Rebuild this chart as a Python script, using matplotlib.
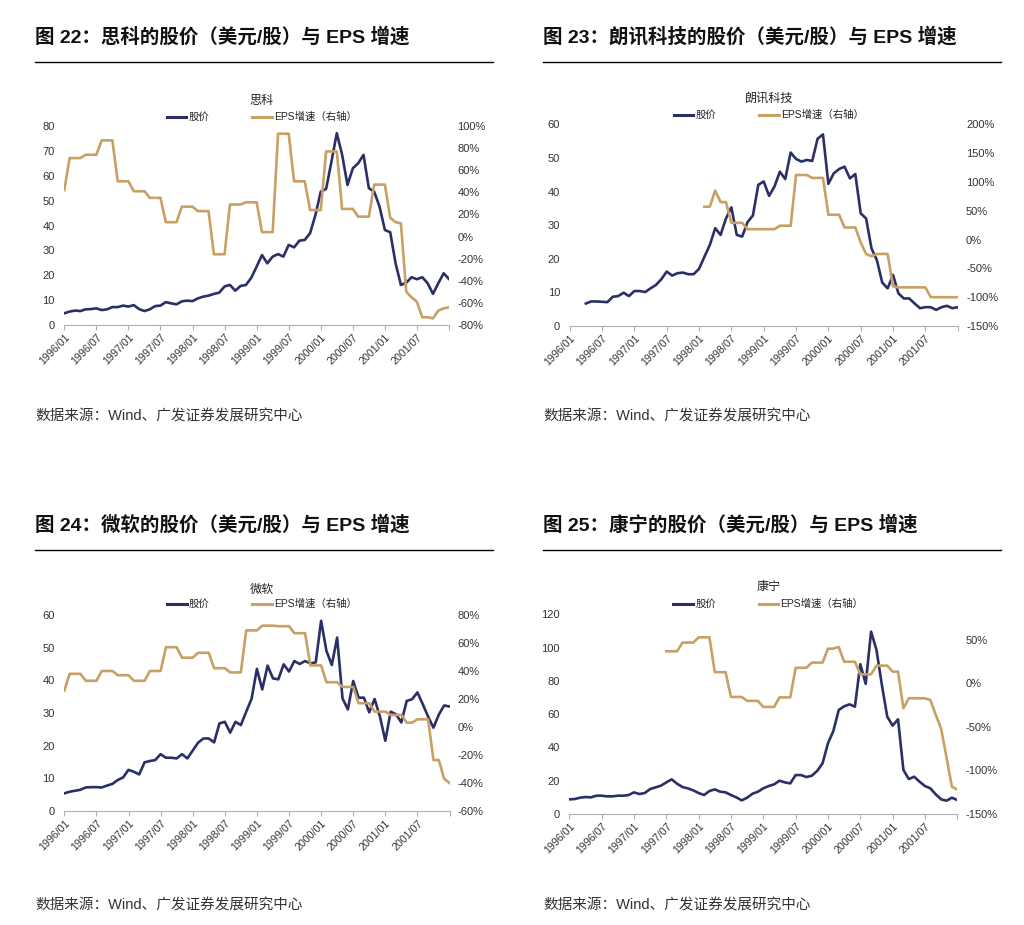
import numpy as np
import pandas as pd
import matplotlib
matplotlib.use("Agg")
import matplotlib.pyplot as plt
from matplotlib.lines import Line2D

plt.rcParams['font.family'] = ['Liberation Sans', 'Noto Sans CJK SC']
plt.rcParams['axes.unicode_minus'] = False

NAVY = '#2b2f68'
TAN = '#c9a064'
W, H = 1024, 925

nan = np.nan
months = pd.date_range('1996-01-01', periods=73, freq='MS').strftime('%Y/%m').tolist()
tick_pos = list(range(0, 73, 6))
tick_labels = [months[i] if i < 72 else '' for i in tick_pos]

cisco_price = [4.7, 5.4, 5.8, 5.6, 6.3, 6.4, 6.7, 6.0, 6.3, 7.2,
               7.2, 7.8, 7.4, 8.0, 6.4, 5.6, 6.3, 7.6, 7.8, 9.2,
               8.7, 8.3, 9.5, 9.8, 9.6, 10.7, 11.4, 11.8, 12.5, 13.0,
               15.5, 16.1, 13.8, 15.7, 16.1, 19.0, 23.5, 28.1, 24.8, 27.5,
               28.5, 27.5, 32.2, 31.2, 33.9, 34.2, 36.9, 44.2, 53.6, 54.7,
               65.7, 77.1, 68.4, 56.3, 63.0, 65.0, 68.4, 55.0, 53.6, 47.6,
               38.2, 37.3, 24.8, 16.1, 17.0, 19.2, 18.4, 19.2, 16.8, 12.5,
               16.8, 20.8, 18.5]
cisco_eps = [42, 71, 71, 71, 74, 74, 74, 87, 87, 87,
             50, 50, 50, 41, 41, 41, 35, 35, 35, 13,
             13, 13, 27, 27, 27, 23, 23, 23, -16, -16,
             -16, 29, 29, 29, 31, 31, 31, 4, 4, 4,
             93, 93, 93, 50, 50, 50, 24, 24, 24, 77,
             77, 77, 25, 25, 25, 18, 18, 18, 47, 47,
             47, 17, 13, 12, -50, -55, -59, -73, -73, -74,
             -67, -65, -64]

lucent_price = [nan, nan, nan, 6.7, 7.3, 7.3, 7.2, 7.1, 8.7, 8.9,
                9.9, 8.9, 10.4, 10.4, 10.1, 11.2, 12.2, 13.9, 16.2, 15.0,
                15.7, 15.9, 15.4, 15.4, 17.0, 20.6, 24.1, 29.1, 27.1, 32.0,
                35.3, 27.1, 26.6, 30.9, 32.9, 42.0, 43.0, 38.7, 41.5, 45.9,
                43.7, 51.6, 49.7, 48.9, 49.4, 49.1, 55.7, 57.0, 42.3, 45.4,
                46.7, 47.4, 43.9, 45.2, 33.5, 32.0, 23.1, 19.6, 12.9, 11.2,
                15.2, 9.7, 8.2, 8.2, 6.7, 5.3, 5.6, 5.6, 4.8, 5.6,
                6.0, 5.3, 5.6]
lucent_eps = [nan] * 25 + [57, 57, 85, 65, 65, 29, 29, 29,
                           18, 18, 18, 18, 18, 18, 24, 24, 24,
                           112, 112, 112, 107, 107, 107, 43, 43, 43,
                           21, 21, 21, -5, -25, -29, -25, -25, -25,
                           -81, -83, -83, -83, -83, -83, -83,
                           -100, -100, -100, -100, -100, -100]

msft_price = [5.4, 5.9, 6.2, 6.5, 7.2, 7.3, 7.3, 7.2, 7.8, 8.3,
              9.5, 10.3, 12.6, 12.0, 11.2, 14.9, 15.3, 15.6, 17.4, 16.3,
              16.3, 16.1, 17.4, 16.1, 18.5, 20.9, 22.2, 22.2, 21.0, 26.8,
              27.3, 24.0, 27.3, 26.3, 30.4, 34.3, 43.5, 37.2, 44.5, 40.6,
              40.3, 44.9, 42.7, 45.9, 45.0, 45.9, 45.2, 45.5, 58.2, 49.0,
              44.7, 53.1, 34.5, 31.1, 39.8, 34.7, 34.7, 30.2, 34.3, 28.9,
              21.5, 30.4, 29.6, 27.1, 33.7, 34.2, 36.3, 32.7, 28.9, 25.5,
              29.5, 32.3, 32.0]
msft_eps = [26, 38, 38, 38, 33, 33, 33, 40, 40, 40,
            37, 37, 37, 33, 33, 33, 40, 40, 40, 57,
            57, 57, 49.5, 49.5, 49.5, 53, 53, 53, 42, 42,
            42, 39, 39, 39, 69, 69, 69, 72.4, 72.4, 72.4,
            72, 72, 72, 67, 67, 67, 44, 44, 44, 32,
            32, 32, 28.6, 28.6, 28.6, 17, 17, 17, 11, 11,
            11, 8.6, 8.6, 8.6, 3.1, 3.1, 5.5, 5.5, 5.5, -23.6,
            -23.6, -37, -40]

corning_price = [8.8, 9.0, 9.8, 10.2, 10.0, 11.0, 11.0, 10.6, 10.6, 11.0,
                 11.0, 11.4, 13.0, 12.0, 12.6, 15.0, 16.0, 17.0, 19.0, 20.8,
                 18.2, 16.2, 15.4, 14.2, 12.6, 11.4, 13.8, 14.8, 13.4, 13.0,
                 11.4, 10.0, 8.2, 9.8, 12.2, 13.4, 15.4, 16.8, 17.8, 20.0,
                 19.0, 18.4, 23.4, 23.4, 22.2, 23.0, 25.9, 30.5, 42.5, 49.9,
                 62.5, 64.7, 65.9, 64.5, 90.0, 78.2, 109.6, 98.6, 77.6, 58.5,
                 53.1, 56.9, 26.5, 21.0, 22.4, 19.4, 16.8, 15.4, 11.8, 8.8,
                 8.0, 9.8, 8.4]
corning_eps = [nan] * 18 + [37, 37, 37, 47, 47, 47, 53, 53, 53,
                            13, 13, 13, -15.5, -15.5, -15.5, -20, -20, -20,
                            -27, -27, -27, -16, -16, -16, 18, 18, 18,
                            24, 24, 24, 40, 40, 42, 25, 25, 25,
                            10.5, 10.5, 10.5, 20.5, 20.5, 20.5, 13.6, 13.6,
                            -28.5, -17, -17, -17, -17, -19, -36, -52, -85,
                            -118.6, -122]


def fx(px):
    return px / W


def fy(py):
    return 1 - py / H


def draw_panel(fig, box, header, name, price, eps, yticks, y2lim, y2ticks,
               name_y, legend_y, src_y, head_y, line_y, head_x, line_x1):
    x0, y0, x1, y1 = box
    ax = fig.add_axes([fx(x0), fy(y1), fx(x1 - x0), (y1 - y0) / H])
    x = np.arange(len(price))
    ax.plot(x, price, color=NAVY, lw=1.9)
    ax.set_xlim(0, 72)
    ax.set_ylim(yticks[0], yticks[-1])
    ax.set_yticks(yticks)
    ax.set_yticklabels([str(v) for v in yticks])
    ax.set_xticks(tick_pos)
    ax.set_xticklabels(tick_labels, rotation=45, ha='right', va='top',
                       rotation_mode='anchor', fontsize=7.7, color='#333333')
    ax.tick_params(axis='x', length=3.5, color='#b0b0b0', pad=1.5)
    ax.tick_params(axis='y', length=0, labelsize=8, labelcolor='#333333', pad=7)
    for s in ['top', 'left', 'right']:
        ax.spines[s].set_visible(False)
    ax.spines['bottom'].set_color('#b0b0b0')

    ax2 = ax.twinx()
    ax2.plot(x, eps, color=TAN, lw=1.9)
    ax2.set_ylim(*y2lim)
    ax2.set_yticks(y2ticks)
    ax2.set_yticklabels([f'{v}%' for v in y2ticks])
    ax2.tick_params(axis='y', length=0, labelsize=8, labelcolor='#333333', pad=6)
    for s in ax2.spines.values():
        s.set_visible(False)
    ax2.set_xlim(0, 72)

    cx = (x0 + x1) / 2 + 5
    fig.text(fx(cx), fy(name_y), name, ha='center', va='center',
             fontsize=8.7, color='#222222')
    handles = [Line2D([], [], color=NAVY, lw=2.2), Line2D([], [], color=TAN, lw=2.2)]
    fig.legend(handles, ['股价', 'EPS增速（右轴）'], loc='center',
               bbox_to_anchor=(fx(cx), fy(legend_y)), ncol=2, frameon=False,
               fontsize=7.5, handlelength=1.9, handletextpad=0.2,
               columnspacing=4.1, borderpad=0, labelcolor='#222222')

    fig.text(fx(head_x), fy(head_y), header, ha='left', va='center',
             fontsize=14, fontweight='bold', color='#111111')
    fig.add_artist(Line2D([fx(head_x), fx(line_x1)], [fy(line_y), fy(line_y)],
                          color='black', lw=1.0))
    fig.text(fx(head_x), fy(src_y), '数据来源：Wind、广发证券发展研究中心',
             ha='left', va='center', fontsize=10.5, color='#333333')
    return ax


def main():
    fig = plt.figure(figsize=(W / 100, H / 100), dpi=100)

    draw_panel(fig, (64.3, 126, 449, 325), '图 22：思科的股价（美元/股）与 EPS 增速',
               '思科', cisco_price, cisco_eps, list(range(0, 81, 10)),
               (-80, 100), list(range(-80, 101, 20)),
               101, 117, 416, 37, 61.5, 35, 493)
    draw_panel(fig, (569.7, 124.3, 957.7, 326), '图 23：朗讯科技的股价（美元/股）与 EPS 增速',
               '朗讯科技', lucent_price, lucent_eps, list(range(0, 61, 10)),
               (-150, 200), list(range(-150, 201, 50)),
               99, 115, 416, 37, 61.5, 543, 1001)
    draw_panel(fig, (64.3, 615, 449.5, 811), '图 24：微软的股价（美元/股）与 EPS 增速',
               '微软', msft_price, msft_eps, list(range(0, 61, 10)),
               (-60, 80), list(range(-60, 81, 20)),
               590, 604, 905, 525, 549.5, 35, 493)
    draw_panel(fig, (569.3, 614.3, 957.3, 814), '图 25：康宁的股价（美元/股）与 EPS 增速',
               '康宁', corning_price, corning_eps, list(range(0, 121, 20)),
               (-150, 79.5), list(range(-150, 51, 50)),
               587, 604, 905, 525, 549.5, 543, 1001)

    fig.savefig('out.png', dpi=100)


if __name__ == "__main__":
    main()
